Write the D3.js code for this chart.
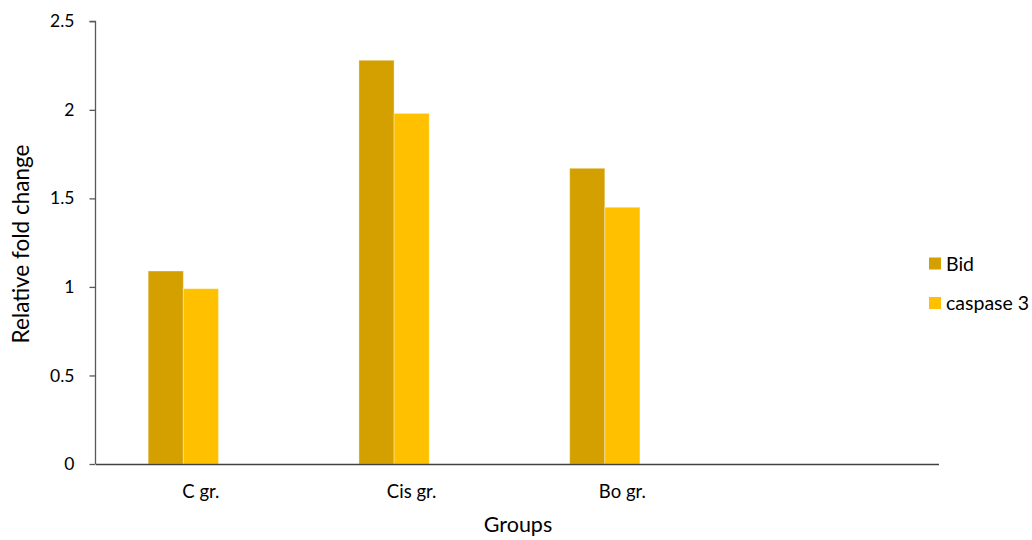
<!DOCTYPE html>
<html>
<head>
<meta charset="utf-8">
<script src="https://cdn.jsdelivr.net/npm/d3@7"></script>
<style>
  html, body { margin: 0; padding: 0; background: #fff; }
  svg { display: block; font-family: Lato, "Open Sans", sans-serif; }
</style>
</head>
<body>
<svg id="chart" width="1032" height="540"></svg>
<script>
// Data
const categories = ["C gr.", "Cis gr.", "Bo gr.", ""];
const seriesNames = ["Bid", "caspase 3"];
const bidValues = [1.09, 2.28, 1.67];
const caspaseValues = [0.99, 1.98, 1.45];
const yTicks = [0, 0.5, 1, 1.5, 2, 2.5];
const colors = ["#D4A000", "#FFC000"];

const svg = d3.select("#chart");
const x0 = 95.5, x1 = 938.5, yTop = 21.3, yBot = 464;

const x = d3.scaleBand().domain(categories).range([x0, x1]).paddingInner(0).paddingOuter(0);
// three slots per group (third slot empty), 100% gap
const slots = ["s0", "s1", "s2"];
const inner = d3.scaleBand().domain(slots)
  .range([x.bandwidth() / 4, x.bandwidth() * 3 / 4]).padding(0);
const y = d3.scaleLinear().domain([0, 2.5]).range([yBot, yTop]);

const series = [bidValues, caspaseValues];
series.forEach((vals, si) => {
  svg.append("g").selectAll("rect").data(vals).join("rect")
    .attr("x", (d, i) => x(categories[i]) + inner(slots[si]))
    .attr("width", inner.bandwidth())
    .attr("y", d => y(d))
    .attr("height", d => y(0) - y(d))
    .attr("fill", colors[si])
    .attr("stroke", "rgba(255,255,255,0.35)")
    .attr("stroke-width", 1);
});

// Y axis
const yAxis = d3.axisLeft(y).tickValues(yTicks).tickSize(6).tickPadding(15)
  .tickFormat(d => d3.format("")(d));
const gy = svg.append("g").attr("transform", `translate(${x0},0)`).call(yAxis);
gy.select(".domain").attr("stroke", "#595959").attr("stroke-width", 1.3).attr("d", `M-6,${yTop}H0V${yBot}`);
gy.selectAll(".tick line").attr("stroke", "#595959").attr("stroke-width", 1.3);
gy.selectAll(".tick text").attr("font-size", 17.5).attr("fill", "#000").attr("font-family", "Lato");

// X axis
const xAxis = d3.axisBottom(x).tickSize(0).tickPadding(0);
const gx = svg.append("g").attr("transform", `translate(0,${yBot})`).call(xAxis);
gx.select(".domain").attr("stroke", "#404040").attr("stroke-width", 1.6);
gx.selectAll(".tick text").attr("font-size", 18.5).attr("fill", "#000")
  .attr("font-family", "Lato").attr("dy", "0").attr("y", 34);

// Axis titles
svg.append("text").attr("x", 518).attr("y", 532).attr("text-anchor", "middle")
  .attr("font-size", 21.5).attr("fill", "#000").text("Groups");
svg.append("text").attr("transform", "translate(29,244) rotate(-90)")
  .attr("text-anchor", "middle").attr("font-size", 22.5).attr("fill", "#000")
  .text("Relative fold change");

// Legend
const legend = svg.append("g");
seriesNames.forEach((name, i) => {
  const cy = 263.5 + i * 39.5;
  legend.append("rect").attr("x", 929).attr("y", cy - 6).attr("width", 12).attr("height", 12)
    .attr("fill", colors[i]);
  legend.append("text").attr("x", 946).attr("y", cy + 7).attr("font-size", 19.5)
    .attr("fill", "#000").text(name);
});
</script>
</body>
</html>
